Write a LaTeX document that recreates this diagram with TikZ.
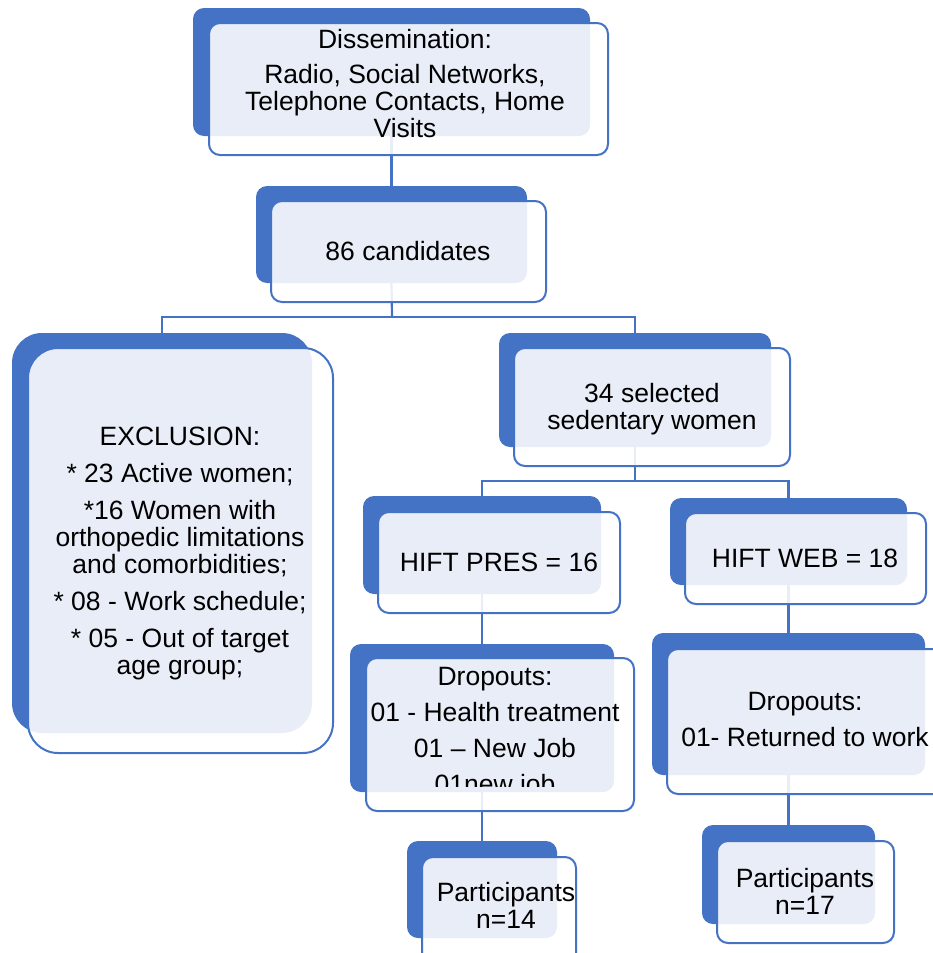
\documentclass[tikz,border=0pt]{standalone}
\usepackage{fontspec}
\setmainfont{Liberation Sans}
\definecolor{backblue}{HTML}{4472C4}
\pgfdeclarelayer{background}
\pgfsetlayers{background,main}
\def\crad{5.5pt}
\tikzset{
  backrect/.style={rectangle, fill=backblue, draw=none, inner sep=0pt, outer sep=0pt, rounded corners=\crad},
  frontrect/.style={rectangle, draw=backblue, line width=1pt, fill=white, fill opacity=0.88, inner sep=0pt, outer sep=0pt, rounded corners=\crad},
  conn/.style={draw=backblue, line width=1.1pt},
  txt/.style={align=center, inner sep=0pt, text=black, font=\fontsize{13.25}{13.5}\selectfont},
}
\newcommand\blockbox[9]{%
  \node[backrect, minimum width={(#4-#2)*0.5pt}, minimum height={(#5-#3)*0.5pt}] (#1b) at ({(#2+#4)/2},{(#3+#5)/2}) {};
  \node[frontrect, minimum width={(#8-#6)*0.5pt}, minimum height={(#9-#7)*0.5pt}] (#1) at ({(#6+#8)/2},{(#7+#9)/2}) {};
}
\begin{document}
\begin{tikzpicture}[x=0.5pt,y=-0.5pt]
\useasboundingbox (0,0) rectangle (932,953);
% boxes
\blockbox{dis}{193}{8}{590}{136}{209}{23}{608}{155}
\blockbox{cand}{256}{186}{527}{283}{271}{201}{546}{302}
\blockbox{sel}{499}{333}{771}{447}{514}{348}{790}{466}
\blockbox{pres}{363}{496}{601}{594}{378}{512}{620}{613}
\blockbox{web}{670}{498}{907}{585}{685}{513}{926}{604}
\blockbox{dropL}{350}{644}{614}{792}{366}{658}{634}{811}
\blockbox{dropR}{652}{633}{925}{775}{667}{649}{945}{794}
\blockbox{partL}{407}{841}{557}{938}{422}{857}{576}{965}
\blockbox{partR}{702}{825}{875}{924}{717}{841}{894}{943}
\def\crad{15pt}
\blockbox{excl}{12}{333}{312}{733}{28}{348}{333}{753}
\def\crad{5.5pt}
% connectors (behind boxes)
\coordinate (f1) at (392,317);
\coordinate (f2) at (635,481);
\begin{pgfonlayer}{background}
\draw[conn] (disb.south) -- (candb.north);
\draw[conn] (candb.south) -- (f1);
\draw[conn] (exclb.north) |- (f1) -| (selb.north);
\draw[conn] (selb.south) -- (f2);
\draw[conn] (presb.north) |- (f2) -| (webb.north);
\draw[conn] (presb.south) -- (dropLb.north);
\draw[conn] (dropLb.south) -- (partLb.north);
\draw[conn] (webb.south) -- (dropRb.north);
\draw[conn] (dropRb.south) -- (partRb.north);
\end{pgfonlayer}
% texts
\node[txt] (dis-t) at (405,84) {Dissemination:\\[4pt]Radio, Social Networks,\\Telephone Contacts, Home\\Visits};
\node[txt] (cand-t) at (408,251) {86 candidates};
\node[txt] (excl-t) at (180,553) {EXCLUSION:\\[5pt]* 23 Active women;\\[5pt]*16 Women with\\orthopedic limitations\\and comorbidities;\\[5pt]* 08 - Work schedule;\\[5pt]* 05 - Out of target\\age group;};
\node[txt] (sel-t) at (652,409) {34 selected\\sedentary women};
\node[txt] (pres-t) at (499,562) {HIFT PRES = 16};
\node[txt] (web-t) at (805,558) {HIFT WEB = 18};
\begin{scope}
\clip (300,600) rectangle (700,786);
\node[txt] (dropL-t) at (495,733) {Dropouts:\\[4.5pt]01 - Health treatment\\[4.5pt]01 – New Job\\[4.5pt]01new job};
\end{scope}
\node[txt] (dropR-t) at (805,720) {Dropouts:\\[4.5pt]01- Returned to work};
\node[txt] (partL-t) at (506,905) {Participants\\n=14};
\node[txt] (partR-t) at (805,891.5) {Participants\\n=17};
\end{tikzpicture}
\end{document}
